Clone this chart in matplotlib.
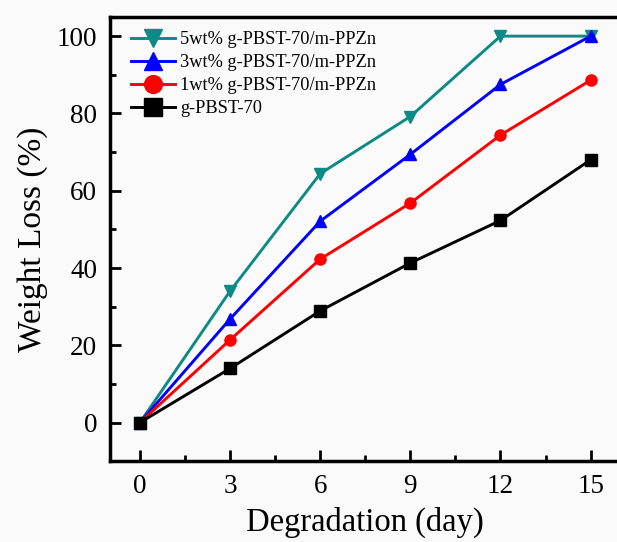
"""
Weight loss vs. degradation time for g-PBST-70 and its m-PPZn blends.
"""

import matplotlib

matplotlib.use("Agg")

import matplotlib.pyplot as plt  # noqa: E402
from matplotlib.ticker import MultipleLocator  # noqa: E402

days = [0, 3, 6, 9, 12, 15]

loss_5wt = [0, 34.0, 64.4, 79.2, 100, 100]
loss_3wt = [0, 26.8, 52.1, 69.4, 87.5, 100]
loss_1wt = [0, 21.4, 42.3, 56.8, 74.4, 88.6]
loss_base = [0, 14.0, 28.9, 41.3, 52.3, 68.0]

labels = [
    "5wt% g-PBST-70/m-PPZn",
    "3wt% g-PBST-70/m-PPZn",
    "1wt% g-PBST-70/m-PPZn",
    "g-PBST-70",
]

plt.rcParams["font.family"] = ["Liberation Serif", "DejaVu Serif"]

fig = plt.figure(figsize=(6.17, 5.42), dpi=100, facecolor="#fafafa")
ax = fig.add_axes([0.178, 0.149, 0.828, 0.82], facecolor="#fafafa")

series = [
    (loss_5wt, "#0b8a86", "v"),
    (loss_3wt, "#0000ff", "^"),
    (loss_1wt, "#ff0000", "o"),
    (loss_base, "#000000", "s"),
]
for (vals, color, marker), label in zip(series, labels):
    ax.plot(days, vals, color=color, marker=marker, markersize=8,
            linewidth=2.1, label=label)

ax.set_xlim(-1, 16)
ax.set_ylim(-10, 105)
ax.xaxis.set_major_locator(MultipleLocator(3))
ax.xaxis.set_minor_locator(MultipleLocator(1.5))
ax.yaxis.set_major_locator(MultipleLocator(20))
ax.yaxis.set_minor_locator(MultipleLocator(10))

ax.tick_params(which="both", direction="in", top=False, right=False,
               labelsize=19.5, width=2)
ax.tick_params(which="major", length=8, pad=9)
ax.tick_params(which="minor", length=4.5)

for side in ("left", "bottom", "top"):
    ax.spines[side].set_linewidth(2.5)
ax.spines["right"].set_visible(False)

ax.set_xlabel("Degradation (day)", fontsize=23.5, labelpad=6)
ax.set_ylabel("Weight Loss (%)", fontsize=24, labelpad=6)

ax.legend(loc="upper left", bbox_to_anchor=(0.041, 0.968), frameon=False,
          fontsize=13.2, handlelength=2.4, borderaxespad=0, borderpad=0,
          labelspacing=0.33, handletextpad=0.3, markerscale=1.6)

fig.savefig("out.png", dpi=100, facecolor=fig.get_facecolor())
plt.close(fig)
